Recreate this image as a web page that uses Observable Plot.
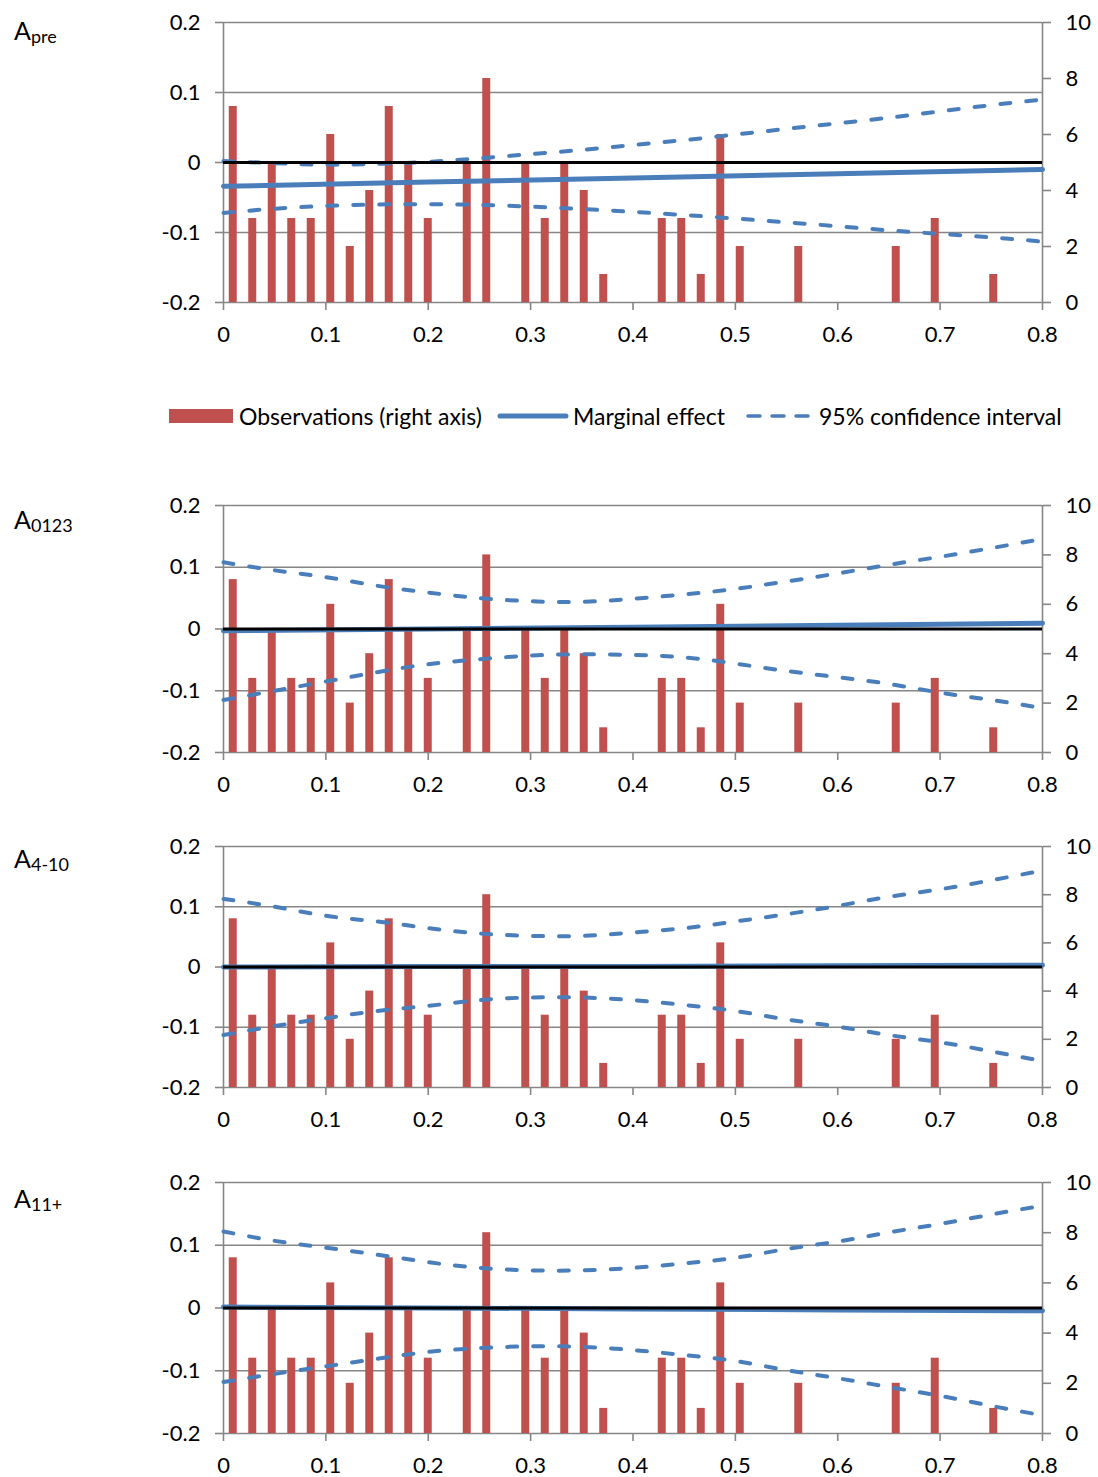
<!DOCTYPE html>
<html>
<head>
<meta charset="utf-8">
<script src="https://cdn.jsdelivr.net/npm/d3@7"></script>
<script src="https://cdn.jsdelivr.net/npm/@observablehq/plot@0.6"></script>
<style>
  body { margin: 0; background: #fff; font-family: Lato, "Open Sans", sans-serif; }
  #page { position: relative; width: 1098px; height: 1477px; overflow: hidden; }
  .panel { position: absolute; left: 0; }
  .plabel { position: absolute; left: 14px; font-size: 25px; line-height: 25px; color: #000; white-space: nowrap; }
  .plabel sub { font-size: 18px; vertical-align: baseline; position: relative; top: 3px; }
  .leg { position: absolute; font-size: 23px; line-height: 26px; color: #000; white-space: nowrap; }
</style>
</head>
<body>
<div id="page"></div>
<script>
// Axis ticks
const xTicks = [0, 0.1, 0.2, 0.3, 0.4, 0.5, 0.6, 0.7, 0.8];
const leftTicks = [-0.2, -0.1, 0, 0.1, 0.2];
const rightTicks = [0, 2, 4, 6, 8, 10];

// Number of observations in each of 42 equal bins over [0, 0.8] (right axis)
const obsCounts = [7, 3, 5, 3, 3, 6, 2, 4, 7, 5, 3, 0, 5, 8, 0, 5, 3, 5, 4, 1, 0,
                   0, 3, 3, 1, 6, 2, 0, 0, 2, 0, 0, 0, 0, 2, 0, 3, 0, 0, 1, 0, 0];

// Points at which the curves are evaluated
const ciX = [0, 0.05, 0.1, 0.15, 0.2, 0.25, 0.3, 0.35, 0.4, 0.45, 0.5, 0.55, 0.6, 0.65, 0.7, 0.75, 0.8];
const meX = [0, 0.2, 0.4, 0.6, 0.8];

// A_pre
const preME    = [-0.034, -0.028, -0.022, -0.016, -0.010];
const preUpper = [0.002, -0.001, -0.003, -0.002, 0.001, 0.006, 0.012, 0.018, 0.025, 0.032, 0.040, 0.048, 0.056, 0.064, 0.073, 0.082, 0.090];
const preLower = [-0.072, -0.066, -0.062, -0.060, -0.0595, -0.0605, -0.063, -0.0665, -0.0705, -0.075, -0.080, -0.0855, -0.091, -0.097, -0.102, -0.107, -0.113];

// A_0123
const a0123ME    = [-0.003, 0.000, 0.003, 0.006, 0.0095];
const a0123Upper = [0.108, 0.095, 0.084, 0.070, 0.059, 0.050, 0.045, 0.044, 0.049, 0.056, 0.065, 0.077, 0.090, 0.104, 0.117, 0.131, 0.146];
const a0123Lower = [-0.115, -0.100, -0.085, -0.070, -0.057, -0.049, -0.043, -0.041, -0.042, -0.046, -0.056, -0.068, -0.078, -0.089, -0.103, -0.115, -0.128];

// A_4-10
const a410ME    = [0.000, 0.001, 0.001, 0.002, 0.003];
const a410Upper = [0.113, 0.100, 0.085, 0.0755, 0.0645, 0.0556, 0.0517, 0.0517, 0.0573, 0.0645, 0.0755, 0.0877, 0.1015, 0.1165, 0.129, 0.144, 0.160];
const a410Lower = [-0.113, -0.098, -0.085, -0.073, -0.0645, -0.055, -0.0506, -0.0506, -0.055, -0.063, -0.073, -0.087, -0.099, -0.113, -0.125, -0.140, -0.156];

// A_11+
const a11ME    = [0.0015, 0.000, -0.0015, -0.003, -0.0045];
const a11Upper = [0.122, 0.107, 0.096, 0.085, 0.073, 0.064, 0.060, 0.060, 0.064, 0.071, 0.080, 0.094, 0.106, 0.1205, 0.134, 0.149, 0.163];
const a11Lower = [-0.118, -0.105, -0.093, -0.081, -0.070, -0.064, -0.061, -0.062, -0.067, -0.075, -0.0845, -0.099, -0.112, -0.126, -0.140, -0.156, -0.171];

// Colours and styles
const RED = "#C0504D";
const BLUE = "#4A7EBB";
const GRID = "#868686";
const FONT = "Lato, 'Open Sans', sans-serif";
const TICK_FONT = 22;

const xMax = 0.8, yMin = -0.2, yMax = 0.2, countMax = 10;
const binWidth = xMax / obsCounts.length;
const barHalf = binWidth * 0.205;
const countToY = c => yMin + c * (yMax - yMin) / countMax;
const yToCount = y => Math.round((y - yMin) * countMax / (yMax - yMin));
const fmt = d => String(d);

const bins = obsCounts
  .map((count, k) => ({x: (k + 0.5) * binWidth, count}))
  .filter(d => d.count > 0);

function series(xs, ys) { return xs.map((x, i) => ({x, y: ys[i]})); }

function panel({me, upper, lower, top, marginTop, plotHeight, marginBottom}) {
  const chart = Plot.plot({
    width: 1098,
    height: marginTop + plotHeight + marginBottom,
    marginLeft: 223, marginRight: 56, marginTop, marginBottom,
    style: {fontFamily: FONT, fontSize: TICK_FONT + "px", background: "white", overflow: "visible", color: "black"},
    x: {domain: [0, xMax]},
    y: {domain: [yMin, yMax]},
    marks: [
      Plot.ruleY(leftTicks, {x1: 0, x2: xMax, stroke: GRID, strokeWidth: 1.6}),
      Plot.rect(bins, {x1: d => d.x - barHalf, x2: d => d.x + barHalf, y1: yMin, y2: d => countToY(d.count), fill: RED}),
      Plot.ruleX([0, xMax], {y1: yMin, y2: yMax, stroke: GRID, strokeWidth: 1.6}),
      Plot.axisY(leftTicks, {anchor: "left", tickSize: 8, tickPadding: 15, tickFormat: fmt, stroke: GRID, strokeWidth: 1.6, fontSize: TICK_FONT, label: null}),
      Plot.axisY(rightTicks.map(countToY), {anchor: "right", tickSize: 8, tickPadding: 15, tickFormat: d => String(yToCount(d)), stroke: GRID, strokeWidth: 1.6, fontSize: TICK_FONT, label: null}),
      Plot.axisX(xTicks, {anchor: "bottom", tickSize: 8, tickPadding: 16, tickFormat: fmt, stroke: GRID, strokeWidth: 1.6, fontSize: TICK_FONT, label: null}),
      Plot.line(series(meX, me), {x: "x", y: "y", stroke: BLUE, strokeWidth: 5, strokeLinecap: "round"}),
      Plot.line(series(ciX, upper), {x: "x", y: "y", stroke: BLUE, strokeWidth: 4, strokeDasharray: "10,16", strokeLinecap: "round", curve: "natural"}),
      Plot.line(series(ciX, lower), {x: "x", y: "y", stroke: BLUE, strokeWidth: 4, strokeDasharray: "10,16", strokeLinecap: "round", curve: "natural"}),
      Plot.ruleY([0], {x1: 0, x2: xMax, stroke: "black", strokeWidth: 3})
    ]
  });
  chart.classList.add("panel");
  chart.style.top = top + "px";
  return chart;
}

const page = document.getElementById("page");

const panels = [
  {me: preME,   upper: preUpper,   lower: preLower,   top: 0,    marginTop: 22, plotHeight: 280, marginBottom: 50, label: "A", sub: "pre",  labelTop: 18},
  {me: a0123ME, upper: a0123Upper, lower: a0123Lower, top: 480,  marginTop: 25, plotHeight: 247, marginBottom: 50, label: "A", sub: "0123", labelTop: 507},
  {me: a410ME,  upper: a410Upper,  lower: a410Lower,  top: 820,  marginTop: 26, plotHeight: 241, marginBottom: 50, label: "A", sub: "4-10", labelTop: 846},
  {me: a11ME,   upper: a11Upper,   lower: a11Lower,   top: 1155, marginTop: 27, plotHeight: 251, marginBottom: 44, label: "A", sub: "11+",  labelTop: 1186}
];

for (const p of panels) {
  page.appendChild(panel(p));
  const lab = document.createElement("div");
  lab.className = "plabel";
  lab.style.top = p.labelTop + "px";
  lab.innerHTML = `${p.label}<sub>${p.sub}</sub>`;
  page.appendChild(lab);
}

// Legend between the first and second panel
const legendItems = [
  {kind: "bar",    x: 169, w: 64, textX: 239, text: "Observations (right axis)"},
  {kind: "solid",  x: 499, w: 68, textX: 573, text: "Marginal effect"},
  {kind: "dashed", x: 746, w: 68, textX: 819, text: "95% confidence interval"}
];
const legendY = 416;
for (const item of legendItems) {
  const sw = document.createElementNS("http://www.w3.org/2000/svg", "svg");
  sw.setAttribute("width", item.w + 4);
  sw.setAttribute("height", 16);
  sw.style.position = "absolute";
  sw.style.left = (item.x - 2) + "px";
  sw.style.top = (legendY - 8) + "px";
  if (item.kind === "bar") {
    sw.innerHTML = `<rect x="2" y="1" width="${item.w}" height="14" fill="${RED}"/>`;
  } else if (item.kind === "solid") {
    sw.innerHTML = `<line x1="3" x2="${item.w + 1}" y1="8" y2="8" stroke="${BLUE}" stroke-width="5" stroke-linecap="round"/>`;
  } else {
    sw.innerHTML = `<line x1="4" x2="${item.w}" y1="8" y2="8" stroke="${BLUE}" stroke-width="3.5" stroke-dasharray="12,12" stroke-linecap="round"/>`;
  }
  page.appendChild(sw);
  const t = document.createElement("div");
  t.className = "leg";
  t.style.left = item.textX + "px";
  t.style.top = (legendY - 13) + "px";
  t.textContent = item.text;
  page.appendChild(t);
}
</script>
</body>
</html>
